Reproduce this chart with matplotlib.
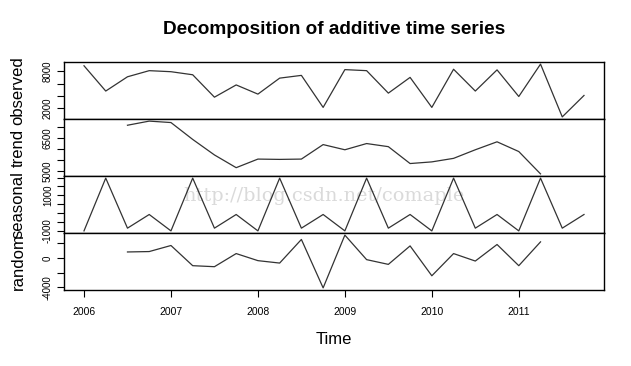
import numpy as np
import matplotlib
matplotlib.use("Agg")
import matplotlib.pyplot as plt

# ---------------- data (quarterly, 2006 Q1 .. 2011 Q4) ----------------
start_year = 2006
freq = 4
observed = [8900, 4770, 7100, 8100, 7930, 7430, 3770, 5770, 4270, 6880, 7330, 2100,
            8270, 8100, 4430, 7000, 2100, 8330, 4770, 8230, 3880, 9170, 550, 4050]
# trend / random are defined from 2006 Q3 to 2011 Q2
trend = [7096, 7283, 7218, 6453, 5750, 5173, 5562, 5548, 5562, 6219,
         5984, 6266, 6125, 5360, 5435, 5595, 5984, 6345, 5904, 4891]
seasonal_figure = [-1020, 1975, -865, -90]
random_comp = [827, 883, 1710, -1048, -1186, 607, -359, -690, 2537, -4082,
               3130, -221, -869, 1655, -2427, 607, -414, 1848, -1048, 2206]
trend_offset = 2  # index of first non-missing trend value

panel_names = ["observed", "trend", "seasonal", "random"]
yticks = {
    "observed": [2000, 4000, 6000, 8000],
    "trend": [5000, 5500, 6000, 6500, 7000],
    "seasonal": [-1000, -500, 0, 500, 1000, 1500, 2000],
    "random": [-4000, -2000, 0, 2000],
}
ylabels_shown = {
    "observed": ["2000", "8000"],
    "trend": ["5000", "6500"],
    "seasonal": ["-1000", "1000"],
    "random": ["-4000", "0"],
}
xtick_years = [2006, 2007, 2008, 2009, 2010, 2011]
title = "Decomposition of additive time series"
xlabel = "Time"
watermark = "http://blog.csdn.net/comaple"

# ---------------- build series ----------------
n = len(observed)
t_all = start_year + np.arange(n) / freq
seasonal = [seasonal_figure[i % freq] for i in range(n)]
t_mid = t_all[trend_offset:trend_offset + len(trend)]
series = {
    "observed": (t_all, observed),
    "trend": (t_mid, trend),
    "seasonal": (t_all, seasonal),
    "random": (t_mid, random_comp),
}

plt.rcParams["font.family"] = ["Liberation Sans", "DejaVu Sans"]

W, H = 631, 366
fig = plt.figure(figsize=(W / 100, H / 100), dpi=100)
fig.patch.set_facecolor("white")
left, right, top, bottom = 64 / W, 604 / W, 1 - 62 / H, 1 - 290 / H
gs = fig.add_gridspec(4, 1, left=left, right=right, top=top, bottom=bottom, hspace=0)

xpad = 0.04 * (t_all[-1] - t_all[0])
axes = []
for i, name in enumerate(panel_names):
    ax = fig.add_subplot(gs[i, 0])
    axes.append(ax)
    x, y = series[name]
    ax.plot(x, y, color="#333333", lw=0.9)
    ax.set_xlim(t_all[0] - xpad, t_all[-1] + xpad)
    all_y = np.array(y, dtype=float)
    lo, hi = all_y.min(), all_y.max()
    pad = 0.04 * (hi - lo)
    ax.set_ylim(lo - pad, hi + pad)
    ticks = [v for v in yticks[name] if lo - pad <= v <= hi + pad]
    ax.set_yticks(ticks)
    ax.set_yticklabels([str(v) if str(v) in ylabels_shown[name] else "" for v in ticks],
                       rotation=90, va="center", fontsize=7)
    ax.tick_params(axis="y", direction="out", length=5, width=0.8, pad=3)
    for s in ax.spines.values():
        s.set_linewidth(1.0)
        s.set_color("black")
    if i < 3:
        ax.set_xticks([])
    else:
        ax.set_xticks(xtick_years)
        ax.set_xticklabels([str(v) for v in xtick_years], fontsize=7.5)
        ax.tick_params(axis="x", direction="out", length=5, width=0.8, pad=7)
    # panel label
    y0, y1 = ax.get_position().y0, ax.get_position().y1
    fig.text(18 / W, (y0 + y1) / 2, name, rotation=90, ha="center", va="center", fontsize=12)

fig.text((left + right) / 2, 1 - 29 / H, title, ha="center", va="center",
         fontsize=13.7, fontweight="bold")
fig.text((left + right) / 2, 1 - 340 / H, xlabel, ha="center", va="center", fontsize=12)

axes[2].text(183 / W, 1 - 201 / H, watermark, transform=fig.transFigure,
             fontsize=13.9, family=["DejaVu Serif", "Liberation Serif"],
             color="#dadada", ha="left", va="baseline", zorder=0)

fig.savefig("out.png", dpi=100, facecolor="white")
